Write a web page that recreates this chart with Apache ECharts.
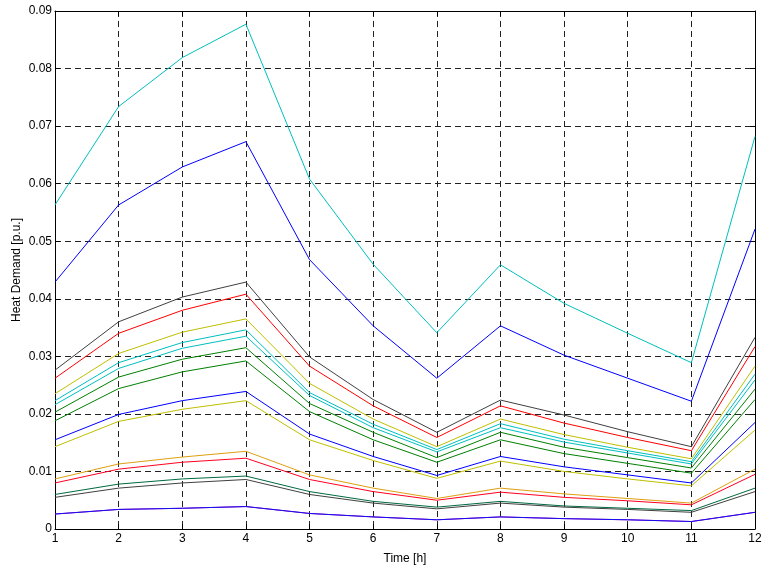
<!DOCTYPE html>
<html>
<head>
<meta charset="utf-8">
<script src="https://cdn.jsdelivr.net/npm/echarts@6/dist/echarts.min.js"></script>
<style>html,body{margin:0;padding:0;background:#fff}#c{width:766px;height:570px}</style>
</head>
<body>
<div id="c"></div>
<script>
const hours = [1,2,3,4,5,6,7,8,9,10,11,12];
const yTicks = [0,0.01,0.02,0.03,0.04,0.05,0.06,0.07,0.08,0.09];

const cyanTop  = [0.0563,0.0734,0.0819,0.0877,0.0608,0.0460,0.0341,0.0459,0.0392,0.0340,0.0289,0.0682];
const blueTop  = [0.0429,0.0563,0.0629,0.0673,0.0468,0.0353,0.0262,0.0353,0.0302,0.0262,0.0222,0.0521];
const gray1    = [0.0276,0.0360,0.0403,0.0429,0.0299,0.0225,0.0168,0.0224,0.0198,0.0169,0.0143,0.0333];
const red1     = [0.0262,0.0340,0.0380,0.0408,0.0283,0.0214,0.0159,0.0214,0.0184,0.0159,0.0136,0.0317];
const yellow1  = [0.0235,0.0305,0.0342,0.0365,0.0253,0.0191,0.0143,0.0191,0.0164,0.0142,0.0122,0.0283];
const cyan1    = [0.0223,0.0289,0.0324,0.0346,0.0237,0.0182,0.0138,0.0183,0.0156,0.0136,0.0117,0.0269];
const cyan2    = [0.0216,0.0279,0.0314,0.0335,0.0232,0.0176,0.0134,0.0176,0.0151,0.0132,0.0113,0.0259];
const green1   = [0.0203,0.0264,0.0295,0.0315,0.0218,0.0168,0.0124,0.0168,0.0142,0.0124,0.0106,0.0243];
const green2   = [0.0188,0.0244,0.0273,0.0292,0.0204,0.0155,0.0116,0.0155,0.0131,0.0114,0.0097,0.0225];
const blue1    = [0.0155,0.0199,0.0223,0.0239,0.0165,0.0126,0.0093,0.0126,0.0108,0.0094,0.0080,0.0185];
const yellow2  = [0.0143,0.0187,0.0208,0.0223,0.0155,0.0119,0.0088,0.0118,0.0100,0.0087,0.0075,0.0172];
const orange1  = [0.0087,0.0113,0.0125,0.0135,0.0094,0.0071,0.0053,0.0071,0.0061,0.0053,0.0045,0.0104];
const red2     = [0.0080,0.0104,0.0116,0.0123,0.0086,0.0065,0.0050,0.0064,0.0055,0.0049,0.0042,0.0095];
const teal1    = [0.0060,0.0078,0.0087,0.0092,0.0065,0.0048,0.0038,0.0048,0.0040,0.0036,0.0032,0.0071];
const gray2    = [0.0055,0.0071,0.0080,0.0086,0.0060,0.0045,0.0035,0.0045,0.0038,0.0034,0.0029,0.0065];
const magenta1 = [0.0026,0.0034,0.0036,0.0039,0.0027,0.0021,0.0016,0.0021,0.0018,0.0016,0.0013,0.0029];
const blueBot  = [0.0026,0.0034,0.0036,0.0039,0.0027,0.0021,0.0016,0.0021,0.0018,0.0016,0.0013,0.0029];

const seriesDefs = [
  [cyanTop,'#00bfbf'],[blueTop,'#0000ff'],[gray1,'#404040'],[red1,'#ff0000'],
  [yellow1,'#bfbf00'],[cyan1,'#00bfbf'],[cyan2,'#00bfbf'],[green1,'#008000'],
  [green2,'#008000'],[blue1,'#0000ff'],[yellow2,'#bfbf00'],[orange1,'#df9f10'],
  [red2,'#ff0020'],[teal1,'#006a40'],[gray2,'#404040'],[magenta1,'#bf00bf'],[blueBot,'#1010f0']
];

const font = 'Liberation Sans, Arial, sans-serif';
const chart = echarts.init(document.getElementById('c'), null, {renderer:'canvas'});
const gridDash = {show:true, lineStyle:{color:'#222', width:1, type:[6,4]}};
chart.setOption({
  animation:false,
  backgroundColor:'#fff',
  grid:{left:55, right:11, top:11, bottom:41, containLabel:false, outerBoundsMode:'none'},
  xAxis:[{
    type:'value', min:1, max:12, interval:1,
    name:'Time [h]', nameLocation:'middle', nameGap:24,
    nameTextStyle:{fontFamily:font, fontSize:12, color:'#000'},
    axisLine:{show:true, onZero:false, lineStyle:{color:'#000', width:1}},
    axisTick:{show:true, inside:true, length:5, lineStyle:{color:'#000'}},
    axisLabel:{fontFamily:font, fontSize:12, color:'#000', margin:4,
      formatter:v => String(hours[Math.round(v)-1])},
    splitLine:gridDash
  },{
    type:'value', min:1, max:12, interval:1, position:'top',
    axisLine:{show:true, onZero:false, lineStyle:{color:'#000', width:1}},
    axisTick:{show:true, inside:true, length:5, lineStyle:{color:'#000'}},
    axisLabel:{show:false}, splitLine:{show:false}
  }],
  yAxis:[{
    type:'value', min:0, max:0.09, interval:0.01,
    name:'Heat Demand [p.u.]', nameLocation:'middle', nameGap:32, nameRotate:90,
    nameMoveOverlap:false,
    nameTextStyle:{fontFamily:font, fontSize:12, color:'#000'},
    axisLine:{show:true, onZero:false, lineStyle:{color:'#000', width:1}},
    axisTick:{show:true, inside:true, length:5, lineStyle:{color:'#000'}},
    axisLabel:{fontFamily:font, fontSize:12, color:'#000', margin:3,
      formatter:v => { const t = yTicks[Math.round(v*100)]; return t===0 ? '0' : t.toFixed(2); }},
    splitLine:gridDash
  },{
    type:'value', min:0, max:0.09, interval:0.01, position:'right',
    axisLine:{show:true, onZero:false, lineStyle:{color:'#000', width:1}},
    axisTick:{show:true, inside:true, length:5, lineStyle:{color:'#000'}},
    axisLabel:{show:false}, splitLine:{show:false}
  }],
  series: seriesDefs.map(([arr,color]) => ({
    type:'line', xAxisIndex:0, yAxisIndex:0,
    data: hours.map((h,i)=>[h, arr[i]]),
    showSymbol:false, symbol:'none',
    lineStyle:{color, width:1}, itemStyle:{color}
  }))
});
</script>
</body>
</html>
